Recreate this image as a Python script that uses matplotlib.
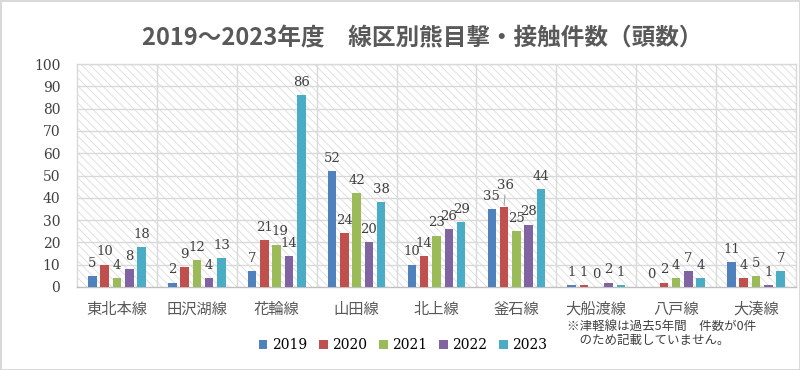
import matplotlib
matplotlib.use("Agg")
import matplotlib.pyplot as plt
import numpy as np
from matplotlib.patches import Rectangle, Patch

categories = ["東北本線", "田沢湖線", "花輪線", "山田線", "北上線", "釜石線", "大船渡線", "八戸線", "大湊線"]
years = ["2019", "2020", "2021", "2022", "2023"]
v2019 = [5, 2, 7, 52, 10, 35, 1, 0, 11]
v2020 = [10, 9, 21, 24, 14, 36, 1, 2, 4]
v2021 = [4, 12, 19, 42, 23, 25, 0, 4, 5]
v2022 = [8, 4, 14, 20, 26, 28, 2, 7, 1]
v2023 = [18, 13, 86, 38, 29, 44, 1, 4, 7]
series = [v2019, v2020, v2021, v2022, v2023]
colors = ["#4F81BD", "#C0504D", "#9BBB59", "#8064A2", "#4BACC6"]
yticks = [0, 10, 20, 30, 40, 50, 60, 70, 80, 90, 100]
title = "2019～2023年度　線区別熊目撃・接触件数（頭数）"
note = "※津軽線は過去5年間　件数が0件\n　のため記載していません。"

plt.rcParams['hatch.linewidth'] = 0.6
JP = ["Noto Sans CJK JP", "DejaVu Sans"]
NUM = "DejaVu Serif"

fig = plt.figure(figsize=(8, 3.7), dpi=100)
fig.patch.set_facecolor("white")
fig.patch.set_edgecolor("#d9d9d9")
fig.patch.set_linewidth(2)

ax = fig.add_axes([77/800, 1-287/370, (796-77)/800, (287-64)/370])
ax.set_facecolor("white")
bg = Rectangle((0, 0), 1, 1, transform=ax.transAxes, facecolor="white",
               edgecolor="#dcdcdc", linewidth=0, hatch="\\\\\\\\", zorder=0)
ax.add_patch(bg)

# label nudges (points) where the original moved labels to limit overlap
nudges = {(5, 1): (1, 6), (2, 2): (2, 0)}

x = np.arange(len(categories))
step = 0.154
width = 0.107
for i, (vals, c) in enumerate(zip(series, colors)):
    xs = x + (i - 2) * step
    ax.bar(xs, vals, width=width, color=c, zorder=3)
    for j, (xi, v) in enumerate(zip(xs, vals)):
        dx, dy = nudges.get((j, i), (0, 0))
        kw = {}
        if dy > 0:
            kw["arrowprops"] = dict(arrowstyle="-", color="#a6a6a6", lw=0.8,
                                    shrinkA=0, shrinkB=1)
        ax.annotate(str(v), (xi, v), xytext=(dx, 4.5 + dy), textcoords="offset points",
                    ha="center", va="bottom", fontsize=9.5, family=NUM,
                    color="#404040", zorder=4, **kw)

ax.set_xlim(-0.5, len(categories) - 0.5)
ax.set_ylim(0, 100)
ax.set_yticks(yticks)
ax.set_yticklabels([str(t) for t in yticks], family=NUM, fontsize=10, color="#404040")
ax.set_xticks(x)
ax.set_xticklabels(categories, family=JP, fontsize=11, color="#595959")
ax.tick_params(axis="both", length=0)
ax.tick_params(axis="y", pad=12)
ax.tick_params(axis="x", pad=10)
for t in yticks[1:]:
    ax.axhline(t, color="#d9d9d9", linewidth=1, zorder=1)
for b in np.arange(0.5, len(categories) - 0.5, 1):
    ax.axvline(b, color="#d9d9d9", linewidth=1, zorder=1)
for s in ax.spines.values():
    s.set_color("#d9d9d9")
    s.set_linewidth(1)
ax.spines["bottom"].set_color("#bfbfbf")

fig.text(422/800, 1-38/370, title, ha="center", va="center", family=JP,
         fontsize=17, fontweight="bold", color="#595959")

handles = [Patch(facecolor=c, edgecolor="none") for c in colors]
fig.legend(handles, years, loc="center", bbox_to_anchor=(403/800, 1-345/370),
           ncol=5, frameon=False, handlelength=0.6, handleheight=0.6,
           handletextpad=0.3, columnspacing=0.9,
           prop={"family": NUM, "size": 10})
fig.text(567/800, 1-334/370, note, ha="left", va="center", family=JP,
         fontsize=9, color="#404040", linespacing=1.05)

fig.savefig("out.png", dpi=100)
